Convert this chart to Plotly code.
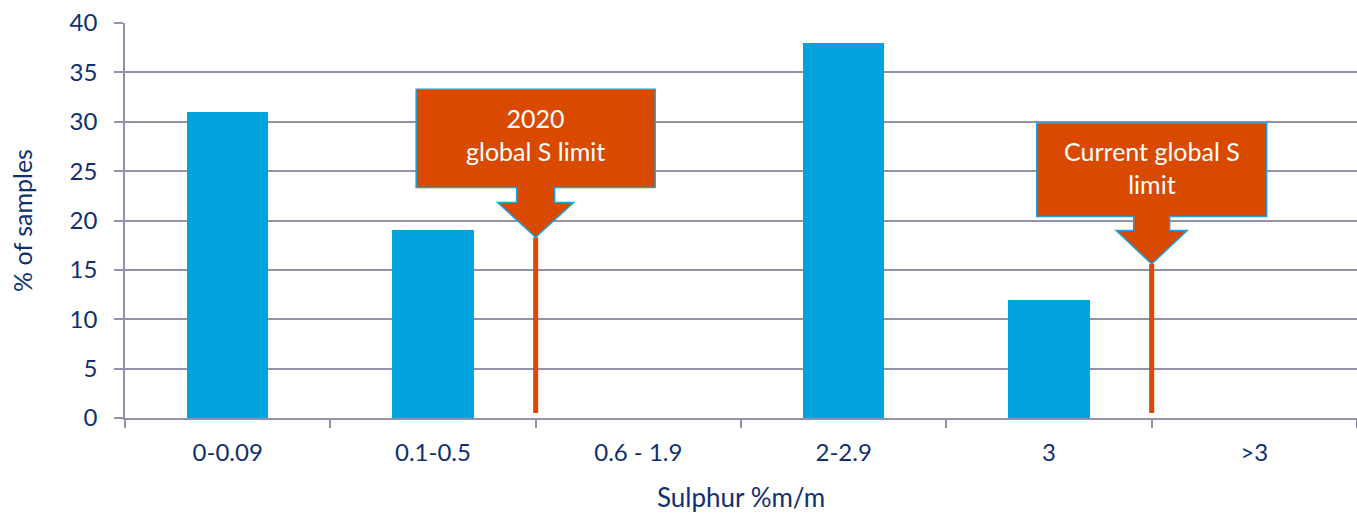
import plotly.graph_objects as go

categories = ["0-0.09", "0.1-0.5", "0.6 - 1.9", "2-2.9", "3", ">3"]
percent_samples = [31, 19, 0, 38, 12, 0]
y_ticks = [0, 5, 10, 15, 20, 25, 30, 35, 40]

# callouts: label, limit position (category boundary), arrow tip value
callout_labels = ["2020<br>global S limit", "Current global S<br>limit"]
callout_x = [1.5, 4.5]
callout_tip = [18.3, 15.6]

BAR = "#00A3DE"
ORANGE = "#D94A00"
EDGE = "#1BA1DB"
GRID = "#9293AB"
TXT = "#102F6F"
FONT = "Lato, Carlito, 'Open Sans', sans-serif"

# geometry of callout boxes (in axis units)
geo = [
    dict(half=0.582, top=33.3, bottom=23.35, shaft_bottom=21.83, shaft=0.0925, head=0.185, text_y=28.7),
    dict(half=0.560, top=29.85, bottom=20.4, shaft_bottom=18.98, shaft=0.0877, head=0.173, text_y=25.4),
]

xs = list(range(len(categories)))

fig = go.Figure()
fig.add_trace(go.Bar(x=xs, y=percent_samples, width=0.395,
                     marker=dict(color=BAR, line=dict(width=0)), showlegend=False))

shapes = []
annotations = []
for lab, cx, tip, g in zip(callout_labels, callout_x, callout_tip, geo):
    shapes.append(dict(type="line", xref="x", yref="y", x0=cx, x1=cx, y0=0.5, y1=tip,
                       line=dict(color=ORANGE, width=5), layer="above"))
    pts = [
        (cx - g["half"], g["top"]), (cx + g["half"], g["top"]), (cx + g["half"], g["bottom"]),
        (cx + g["shaft"], g["bottom"]), (cx + g["shaft"], g["shaft_bottom"]),
        (cx + g["head"], g["shaft_bottom"]), (cx, tip), (cx - g["head"], g["shaft_bottom"]),
        (cx - g["shaft"], g["shaft_bottom"]), (cx - g["shaft"], g["bottom"]),
        (cx - g["half"], g["bottom"]),
    ]
    path = "M " + " L ".join(f"{px},{py}" for px, py in pts) + " Z"
    shapes.append(dict(type="path", xref="x", yref="y", path=path, fillcolor=ORANGE,
                       line=dict(color=EDGE, width=1.5), layer="above"))
    annotations.append(dict(x=cx, y=g["text_y"], xref="x", yref="y", text=lab, showarrow=False,
                            font=dict(family=FONT, size=25, color="white"), align="center"))

annotations.append(dict(x=0.5, y=-0.2, xref="paper", yref="paper", text="Sulphur %m/m",
                        showarrow=False, yanchor="middle",
                        font=dict(family=FONT, size=26, color=TXT)))

fig.update_layout(
    width=1357, height=515,
    margin=dict(l=125, r=0, t=23, b=97),
    plot_bgcolor="white", paper_bgcolor="white",
    font=dict(family=FONT, color=TXT),
    shapes=shapes, annotations=annotations,
    bargap=0,
    xaxis=dict(range=[-0.5, 5.5], tickmode="array", tickvals=xs, ticktext=categories,
               ticks="", showgrid=False, zeroline=False,
               showline=True, linecolor=GRID, linewidth=1.5,
               tickfont=dict(size=24, color=TXT), ticklabelstandoff=12,
               minor=dict(tickmode="array", tickvals=[i - 0.5 for i in range(len(categories) + 1)],
                          ticks="outside", ticklen=8, tickcolor=GRID, tickwidth=1.5, showgrid=False)),
    yaxis=dict(range=[0, 40], tickmode="array", tickvals=y_ticks, ticks="outside", ticklen=9,
               tickcolor=GRID, tickwidth=1.5, showgrid=True, gridcolor=GRID, gridwidth=1.5,
               zeroline=False, showline=True, linecolor=GRID, linewidth=1.5,
               tickfont=dict(size=24, color=TXT), ticklabelstandoff=12,
               title=dict(text="% of samples", font=dict(size=25, color=TXT), standoff=30)),
)

fig.write_html("out.html")
